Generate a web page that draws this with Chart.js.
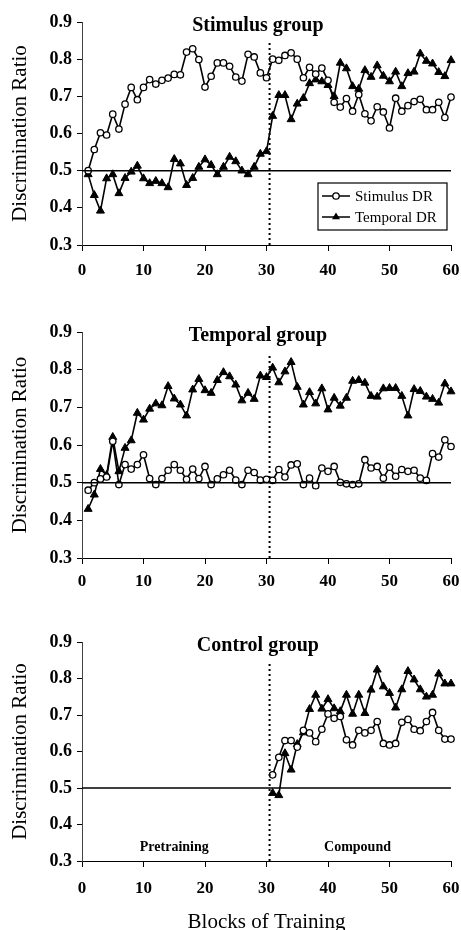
<!DOCTYPE html>
<html>
<head>
<meta charset="utf-8">
<script src="https://cdn.jsdelivr.net/npm/chart.js@4.4.0/dist/chart.umd.min.js"></script>
<style>
  body { margin: 0; background: #fff; overflow: hidden; }
  #wrap { position: relative; width: 461px; height: 930px; overflow: hidden; }
  canvas { position: absolute; left: 0; }
</style>
</head>
<body>
<div id="wrap">
  <canvas id="c1" width="461" height="290" style="top:0px"></canvas>
  <canvas id="c2" width="461" height="290" style="top:300px"></canvas>
  <canvas id="c3" width="461" height="325" style="top:610px"></canvas>
</div>
<script>
// blocks of training
const blocks = [1,2,3,4,5,6,7,8,9,10,11,12,13,14,15,16,17,18,19,20,21,22,23,24,25,26,27,28,29,30,
  31,32,33,34,35,36,37,38,39,40,41,42,43,44,45,46,47,48,49,50,51,52,53,54,55,56,57,58,59,60];
const compoundBlocks = [31,32,33,34,35,36,37,38,39,40,41,42,43,44,45,46,47,48,49,50,51,52,53,54,55,56,57,58,59,60];

const yTicks = [0.3, 0.4, 0.5, 0.6, 0.7, 0.8, 0.9];
const xTicks = [0, 10, 20, 30, 40, 50, 60];

// Stimulus group
const stimGroupStimDR = [0.50,0.557,0.602,0.596,0.652,0.612,0.679,0.724,0.691,0.724,0.745,0.733,0.743,0.749,0.759,0.758,0.819,0.828,0.799,0.725,
  0.754,0.79,0.79,0.781,0.752,0.741,0.813,0.806,0.763,0.75,
  0.80,0.797,0.81,0.817,0.80,0.75,0.778,0.76,0.776,0.743,0.684,0.671,0.694,0.66,0.705,0.653,0.634,0.672,0.658,0.615,
  0.695,0.66,0.675,0.686,0.692,0.664,0.664,0.684,0.643,0.698];
const stimGroupTempDR = [0.49,0.434,0.392,0.479,0.49,0.439,0.48,0.497,0.513,0.479,0.466,0.472,0.466,0.455,0.531,0.519,0.461,0.48,0.51,0.53,
  0.515,0.49,0.51,0.537,0.525,0.50,0.49,0.51,0.545,0.552,
  0.647,0.703,0.703,0.638,0.68,0.695,0.735,0.745,0.74,0.73,0.70,0.79,0.775,0.727,0.72,0.77,0.752,0.783,0.755,0.74,
  0.766,0.727,0.762,0.766,0.815,0.795,0.788,0.765,0.754,0.797];

// Temporal group
const tempGroupStimDR = [0.48,0.50,0.51,0.515,0.61,0.495,0.548,0.536,0.548,0.574,0.511,0.495,0.511,0.533,0.548,0.533,0.509,0.536,0.511,0.543,
  0.495,0.51,0.521,0.533,0.507,0.495,0.533,0.527,0.507,0.509,
  0.506,0.535,0.515,0.547,0.55,0.495,0.512,0.492,0.539,0.53,0.543,0.501,0.497,0.495,0.497,0.561,0.539,0.543,0.512,0.541,
  0.517,0.535,0.53,0.533,0.512,0.506,0.577,0.568,0.614,0.596];
const tempGroupTempDR = [0.43,0.468,0.536,0.52,0.621,0.53,0.592,0.612,0.685,0.667,0.696,0.71,0.705,0.756,0.723,0.707,0.678,0.747,0.775,0.745,
  0.738,0.772,0.793,0.782,0.76,0.718,0.738,0.722,0.784,0.78,
  0.805,0.766,0.795,0.82,0.754,0.707,0.74,0.71,0.75,0.694,0.725,0.704,0.725,0.77,0.772,0.765,0.73,0.728,0.75,0.751,
  0.751,0.73,0.678,0.748,0.743,0.728,0.722,0.712,0.763,0.742];

// Control group (compound phase only)
const ctrlGroupStimDR = [0.536,0.584,0.63,0.63,0.612,0.658,0.651,0.627,0.661,0.703,0.691,0.696,0.632,0.618,0.658,0.651,0.658,0.682,0.622,0.618,
  0.622,0.68,0.688,0.661,0.657,0.682,0.707,0.658,0.634,0.634];
const ctrlGroupTempDR = [0.486,0.48,0.595,0.55,0.62,0.652,0.716,0.755,0.717,0.743,0.718,0.71,0.755,0.703,0.755,0.705,0.769,0.824,0.778,0.76,
  0.72,0.77,0.82,0.797,0.77,0.75,0.755,0.813,0.786,0.786];

const chance = 0.5;
const phaseSplit = 30.5;

const SERIF = "'Liberation Serif', 'Times New Roman', serif";
Chart.defaults.font.family = SERIF;
Chart.defaults.color = '#000';

function toPoints(xs, ys) {
  return xs.map((x, i) => ({ x: x, y: ys[i] }));
}

function drawMarker(ctx, style, x, y) {
  ctx.save();
  ctx.lineWidth = 1.3;
  ctx.strokeStyle = '#000';
  if (style === 'circle') {
    ctx.fillStyle = '#fff';
    ctx.beginPath();
    ctx.arc(x, y, 3.2, 0, Math.PI * 2);
    ctx.fill();
    ctx.stroke();
  } else {
    ctx.fillStyle = '#000';
    const r = 4.6;
    ctx.beginPath();
    ctx.moveTo(x, y - r);
    ctx.lineTo(x + r * 0.87, y + r * 0.5);
    ctx.lineTo(x - r * 0.87, y + r * 0.5);
    ctx.closePath();
    ctx.fill();
  }
  ctx.restore();
}

const panelDecor = {
  id: 'panelDecor',
  afterDraw(chart, args, opts) {
    const ctx = chart.ctx;
    const ca = chart.chartArea;
    const xs = chart.scales.x, ys = chart.scales.y;
    ctx.save();
    ctx.fillStyle = '#000';
    ctx.textBaseline = 'middle';
    ctx.textAlign = 'center';
    if (opts.title) {
      ctx.font = 'bold 20px ' + SERIF;
      ctx.fillText(opts.title, xs.getPixelForValue(28.6), ca.top + 4);
    }
    if (opts.phases) {
      ctx.font = 'bold 14px ' + SERIF;
      ctx.fillText('Pretraining', xs.getPixelForValue(15), ys.getPixelForValue(0.338));
      ctx.fillText('Compound', xs.getPixelForValue(44.8), ys.getPixelForValue(0.338));
    }
    if (opts.legend) {
      const items = chart.data.datasets.filter(d => d.label);
      const bw = 129, bh = 47;
      const bx = ca.right - 4 - bw, by = ca.bottom - 15 - bh;
      ctx.fillStyle = '#fff';
      ctx.fillRect(bx, by, bw, bh);
      ctx.strokeStyle = '#000';
      ctx.lineWidth = 1.2;
      ctx.strokeRect(bx, by, bw, bh);
      ctx.font = '15px ' + SERIF;
      ctx.textAlign = 'left';
      items.forEach((d, i) => {
        const ry = by + 13 + i * 21;
        ctx.beginPath();
        ctx.lineWidth = 1.5;
        ctx.moveTo(bx + 4, ry);
        ctx.lineTo(bx + 32, ry);
        ctx.stroke();
        drawMarker(ctx, d.pointStyle, bx + 18, ry);
        ctx.fillStyle = '#000';
        ctx.fillText(d.label, bx + 37, ry + 1);
      });
    }
    ctx.restore();
  }
};

function makePanel(id, cfg) {
  const datasets = [
    { data: [{ x: 0, y: chance }, { x: 60, y: chance }], borderColor: '#000', borderWidth: 1.5, pointRadius: 0 },
    { data: [{ x: phaseSplit, y: 0.3 }, { x: phaseSplit, y: cfg.dashTop }], borderColor: '#000', borderWidth: 2,
      borderDash: [2, 3], pointRadius: 0 },
    { label: 'Stimulus DR', data: toPoints(cfg.xs, cfg.stim), borderColor: '#000', borderWidth: 1.6,
      pointStyle: 'circle', pointRadius: 3.2, pointBackgroundColor: '#fff', pointBorderColor: '#000', pointBorderWidth: 1.3 },
    { label: 'Temporal DR', data: toPoints(cfg.xs, cfg.temp), borderColor: '#000', borderWidth: 1.6,
      pointStyle: 'triangle', pointRadius: 4.6, pointBackgroundColor: '#000', pointBorderColor: '#000', pointBorderWidth: 1 }
  ];
  datasets.forEach(d => { d.clip = false; d.tension = 0; d.fill = false; });

  return new Chart(document.getElementById(id), {
    type: 'line',
    data: { datasets: datasets },
    plugins: [panelDecor],
    options: {
      responsive: false,
      animation: false,
      layout: { padding: { top: cfg.padTop, right: 10, left: 0, bottom: 0 } },
      plugins: {
        legend: { display: false },
        tooltip: { enabled: false },
        panelDecor: { title: cfg.title, legend: cfg.legend, phases: cfg.phases }
      },
      scales: {
        x: {
          type: 'linear', min: 0, max: 60,
          afterBuildTicks: s => { s.ticks = xTicks.map(v => ({ value: v })); },
          ticks: { color: '#000', font: { size: 17, weight: 'bold' }, padding: cfg.xPad, maxRotation: 0 },
          grid: { drawOnChartArea: false, drawTicks: true, tickLength: 6, color: '#000', lineWidth: 1 },
          border: { color: '#000', width: 1 },
          title: { display: cfg.xTitle, text: 'Blocks of Training', color: '#000',
                   font: { size: 21 }, padding: { top: 0, bottom: 0 } },
          afterFit: s => { s.height = cfg.xHeight; s.paddingLeft = 0; s.paddingRight = 0; }
        },
        y: {
          min: 0.3, max: 0.9,
          afterBuildTicks: s => { s.ticks = yTicks.map(v => ({ value: v })); },
          ticks: { color: '#000', font: { size: 18, weight: 'bold' }, padding: 5,
                   callback: v => v.toFixed(1) },
          grid: { drawOnChartArea: false, drawTicks: true, tickLength: 5, color: '#000', lineWidth: 1 },
          border: { color: '#444', width: 1 },
          title: { display: true, text: 'Discrimination Ratio', color: '#000',
                   font: { size: 21 }, padding: { top: 8, bottom: 0 } },
          afterFit: s => { s.width = 82; }
        }
      }
    }
  });
}

makePanel('c1', { title: 'Stimulus group', xs: blocks, stim: stimGroupStimDR, temp: stimGroupTempDR,
  padTop: 22, xHeight: 45, xPad: 9, dashTop: 0.85, legend: true, phases: false, xTitle: false });
makePanel('c2', { title: 'Temporal group', xs: blocks, stim: tempGroupStimDR, temp: tempGroupTempDR,
  padTop: 32, xHeight: 32, xPad: 7, dashTop: 0.84, legend: false, phases: false, xTitle: false });
makePanel('c3', { title: 'Control group', xs: compoundBlocks, stim: ctrlGroupStimDR, temp: ctrlGroupTempDR,
  padTop: 32, xHeight: 74, xPad: 11, dashTop: 0.84, legend: false, phases: true, xTitle: true });
</script>
</body>
</html>
